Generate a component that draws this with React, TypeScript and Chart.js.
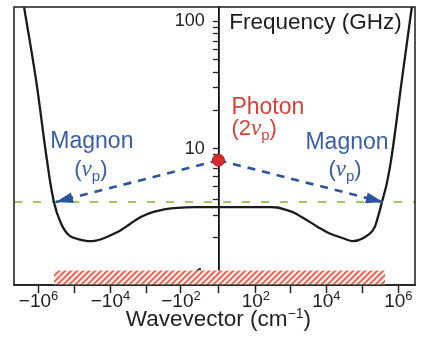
import React, { useEffect, useRef } from "react";
import { Chart, registerables } from "chart.js";

Chart.register(...registerables);

// ---------------- data ----------------
// magnon dispersion (wavevector in cm^-1, frequency in GHz)
const curveK = [
  -2.52e6, -1.17e6, -5.82e5, -3.72e5, -2.38e5, -1.43e5, -8.05e4, -4.26e4, -2.55e4, -1.53e4, -9.2e3, -5.18e3,
  -2.91e3, -1.74e3, -1.04e3, -621, -284, -127, -33, 0, 31, 190, 421, 708, 1187, 1980, 3524, 5880, 1.044e4,
  1.74e4, 2.9e4, 5.5e4, 1.04e5, 1.97e5, 2.7e5, 3.49e5, 4.8e5, 6.6e5, 1.25e6, 2.37e6,
];
const curveGHz = [
  130, 34.6, 8.1, 3.79, 2.59, 2.08, 1.94, 1.87, 1.89, 1.97, 2.1, 2.28,
  2.54, 2.81, 3.02, 3.18, 3.34, 3.42, 3.46, 3.46, 3.46, 3.46, 3.44, 3.31, 3.16, 2.91, 2.64, 2.41, 2.2,
  2.07, 1.97, 1.87, 1.97, 2.28, 2.89, 3.79, 5.35, 8.89, 34.6, 130,
];
// photon (pump) point
const photonK = [0];
const photonGHz = [8.1];
// half-frequency level (green dashed)
const pumpHalfGHz = [3.8, 3.8];
// magnon arrow tips
const magnonTipK = [-3.3e5, 3.7e5];
const magnonTipGHz = [3.8, 3.8];
// hatched band
const bandK = [-3.7e5, 4.26e5];
const bandGHz = [1.1, 1.1];
// axes
const xRangeK = [-4.8e6, 2.9e6];
const yRangeGHz = [0.842, 130];
const xTickK = [-1e6, -1e5, -1e4, -1e3, -1e2, 0, 1e2, 1e3, 1e4, 1e5, 1e6];
const xTickBase = ["−10", "", "−10", "", "−10", "", "10", "", "10", "", "10"];
const xTickExp = ["6", "", "4", "", "2", "", "2", "", "4", "", "6"];
const yTickValues = [1, 2, 3, 4, 5, 6, 7, 8, 9, 10, 20, 30, 40, 50, 60, 70, 80, 90, 100];
const yTickLabels = ["1", "", "", "", "", "", "", "", "", "10", "", "", "", "", "", "", "", "", "100"];
const xTitleParts = ["Wavevector (cm", "−1", ")"];

// symmetric-log transform of the wavevector axis
const sym = (k: number) => Math.sign(k) * Math.log10(1 + Math.abs(k) / 10);

const FONT = '"Liberation Sans", Arial, Helvetica, sans-serif';
const BLUE = "#3a5ea6";
const RED = "#d2433a";

type Ann = { text: string; k: number; ghz: number; align: "left" | "center"; color: string; size: number; nu?: string };
const annotations: Ann[] = [
  { text: "Frequency (GHz)", k: 10, ghz: 87, align: "left", color: "#1e1e1e", size: 22.5 },
  { text: "Photon", k: 12.9, ghz: 18.7, align: "left", color: RED, size: 23 },
  { text: "", nu: "2", k: 12.9, ghz: 12.8, align: "left", color: RED, size: 22 },
  { text: "Magnon", k: -3.29e4, ghz: 10.1, align: "center", color: BLUE, size: 23 },
  { text: "", nu: "", k: -3.51e4, ghz: 6.07, align: "center", color: BLUE, size: 22 },
  { text: "Magnon", k: 3.74e4, ghz: 9.9, align: "center", color: BLUE, size: 23 },
  { text: "", nu: "", k: 3.29e4, ghz: 6.07, align: "center", color: BLUE, size: 22 },
];

type Seg = { t: string; f: string; dy: number };

function drawSegs(ctx: CanvasRenderingContext2D, x: number, y: number, segs: Seg[], align: string) {
  let w = 0;
  for (const s of segs) {
    ctx.font = s.f;
    w += ctx.measureText(s.t).width;
  }
  let cx = align === "center" ? x - w / 2 : x;
  ctx.textAlign = "left";
  ctx.textBaseline = "alphabetic";
  for (const s of segs) {
    ctx.font = s.f;
    ctx.fillText(s.t, cx, y + s.dy);
    cx += ctx.measureText(s.t).width;
  }
}

function nuSegs(prefix: string, size: number): Seg[] {
  return [
    { t: "(", f: `${size}px ${FONT}`, dy: 0 },
    { t: prefix, f: `${size}px ${FONT}`, dy: 0 },
    { t: "ν", f: `italic ${size + 1}px "Liberation Serif", "DejaVu Serif", serif`, dy: 0 },
    { t: "p", f: `${Math.round(size * 0.66)}px ${FONT}`, dy: 5 },
    { t: ")", f: `${size}px ${FONT}`, dy: 0 },
  ];
}

const textPlugin = {
  id: "textLabels",
  afterDatasetsDraw(chart: any) {
    const { ctx, scales } = chart;
    ctx.save();
    for (const a of annotations) {
      const x = scales.x.getPixelForValue(sym(a.k));
      const y = scales.y.getPixelForValue(a.ghz);
      ctx.fillStyle = a.color;
      if (a.nu !== undefined) {
        drawSegs(ctx, x, y, nuSegs(a.nu, a.size), a.align);
      } else {
        drawSegs(ctx, x, y, [{ t: a.text, f: `${a.size}px ${FONT}`, dy: 0 }], a.align);
      }
    }
    ctx.restore();
  },
  afterDraw(chart: any) {
    const { ctx, scales } = chart;
    const xs = scales.x;
    const top = xs.top;
    ctx.save();
    ctx.fillStyle = "#222";
    xs.ticks.forEach((t: any, i: number) => {
      if (!xTickBase[i]) return;
      const px = xs.getPixelForValue(t.value);
      drawSegs(
        ctx,
        px,
        top + 22,
        [
          { t: xTickBase[i], f: `19px ${FONT}`, dy: 0 },
          { t: xTickExp[i], f: `13px ${FONT}`, dy: -7 },
        ],
        "center"
      );
    });
    const cx = xs.getPixelForValue(0);
    drawSegs(
      ctx,
      cx,
      top + 41,
      [
        { t: xTitleParts[0], f: `22.5px ${FONT}`, dy: 0 },
        { t: xTitleParts[1], f: `14px ${FONT}`, dy: -8 },
        { t: xTitleParts[2], f: `22.5px ${FONT}`, dy: 0 },
      ],
      "center"
    );
    ctx.restore();
  },
};

const framePlugin = {
  id: "frame",
  afterDatasetsDraw(chart: any) {
    const { ctx, chartArea: a } = chart;
    ctx.save();
    ctx.strokeStyle = "#2a2a2a";
    ctx.lineWidth = 1.6;
    ctx.strokeRect(a.left, a.top, a.right - a.left, a.bottom - a.top);
    ctx.restore();
  },
};

const arrowPlugin = {
  id: "arrowHeads",
  afterDatasetsDraw(chart: any) {
    const { ctx } = chart;
    chart.data.datasets.forEach((ds: any, i: number) => {
      if (!ds.arrowHead) return;
      const pts = chart.getDatasetMeta(i).data;
      const a = pts[pts.length - 2];
      const b = pts[pts.length - 1];
      const ang = Math.atan2(b.y - a.y, b.x - a.x);
      const L = 17;
      const W = 5.5;
      const c = Math.cos(ang);
      const s = Math.sin(ang);
      ctx.save();
      ctx.fillStyle = ds.borderColor;
      ctx.beginPath();
      ctx.moveTo(b.x, b.y);
      ctx.lineTo(b.x - L * c - W * s, b.y - L * s + W * c);
      ctx.lineTo(b.x - L * c + W * s, b.y - L * s - W * c);
      ctx.closePath();
      ctx.fill();
      ctx.restore();
    });
  },
};

export default function App() {
  const ref = useRef<HTMLCanvasElement>(null);

  useEffect(() => {
    const canvas = ref.current!;
    const ctx = canvas.getContext("2d")!;

    const pc = document.createElement("canvas");
    pc.width = 6;
    pc.height = 6;
    const p = pc.getContext("2d")!;
    p.fillStyle = "#fde8e4";
    p.fillRect(0, 0, 6, 6);
    p.strokeStyle = "#e2604f";
    p.lineWidth = 1.7;
    p.beginPath();
    p.moveTo(-1, 7);
    p.lineTo(7, -1);
    p.moveTo(-1, 1);
    p.lineTo(1, -1);
    p.moveTo(5, 7);
    p.lineTo(7, 5);
    p.stroke();
    const hatch = ctx.createPattern(pc, "repeat");

    const pts = (ks: number[], vs: number[]) => ks.map((k, i) => ({ x: sym(k), y: vs[i] }));

    const chart = new Chart(ctx, {
      type: "line",
      data: {
        datasets: [
          {
            label: "Photon",
            data: pts(photonK, photonGHz),
            showLine: false,
            pointRadius: 6,
            pointBackgroundColor: "#d42b2b",
            pointBorderColor: "#b01e1e",
            pointBorderWidth: 1,
          },
          {
            label: "Magnon left",
            data: pts([photonK[0], magnonTipK[0]], [photonGHz[0], magnonTipGHz[0]]),
            borderColor: "#2c539c",
            borderWidth: 2.6,
            borderDash: [8, 7],
            pointRadius: 0,
            arrowHead: true,
          } as any,
          {
            label: "Magnon right",
            data: pts([photonK[0], magnonTipK[1]], [photonGHz[0], magnonTipGHz[1]]),
            borderColor: "#2c539c",
            borderWidth: 2.6,
            borderDash: [8, 7],
            pointRadius: 0,
            arrowHead: true,
          } as any,
          {
            label: "Dispersion",
            data: pts(curveK, curveGHz),
            borderColor: "#1a1a1a",
            borderWidth: 2.3,
            pointRadius: 0,
            tension: 0.4,
          },
          {
            label: "Half pump",
            data: pts(xRangeK, pumpHalfGHz),
            borderColor: "#9cc85c",
            borderWidth: 2,
            borderDash: [8, 11],
            pointRadius: 0,
          },
          {
            label: "Band",
            data: pts(bandK, bandGHz),
            borderWidth: 0,
            borderColor: "rgba(0,0,0,0)",
            backgroundColor: hatch as any,
            fill: "start",
            pointRadius: 0,
          },
        ],
      },
      options: {
        animation: false,
        responsive: true,
        maintainAspectRatio: false,
        layout: { padding: { left: 14, right: 8, top: 7, bottom: 12 } },
        plugins: { legend: { display: false }, tooltip: { enabled: false } },
        scales: {
          x: {
            type: "linear",
            position: "bottom",
            min: sym(xRangeK[0]),
            max: sym(xRangeK[1]),
            afterBuildTicks: (scale: any) => {
              scale.ticks = xTickK.map((k) => ({ value: sym(k) }));
            },
            afterFit: (scale: any) => {
              scale.paddingLeft = 0;
              scale.paddingRight = 0;
            },
            ticks: {
              autoSkip: false,
              maxRotation: 0,
              padding: -2,
              color: "rgba(0,0,0,0)",
              font: { family: FONT, size: 18 },
              callback: (_v: any, i: number) => (xTickBase[i] ? xTickBase[i] + xTickExp[i] : ""),
            },
            grid: { drawOnChartArea: false, tickLength: 8, color: "#222", tickWidth: 1.5 },
            border: { display: true, color: "#222", width: 1.6 },
            title: {
              display: true,
              text: xTitleParts.join(""),
              color: "rgba(0,0,0,0)",
              font: { family: FONT, size: 21 },
              padding: { top: 0, bottom: 0 },
            },
          },
          y: {
            type: "logarithmic",
            position: { x: 0 } as any,
            min: yRangeGHz[0],
            max: yRangeGHz[1],
            afterBuildTicks: (scale: any) => {
              scale.ticks = yTickValues.map((v) => ({ value: v }));
            },
            afterFit: (scale: any) => {
              scale.paddingTop = 0;
              scale.paddingBottom = 0;
            },
            ticks: {
              autoSkip: false,
              color: "#222",
              font: { family: FONT, size: 18 },
              callback: (_v: any, i: number) => (yTickLabels[i] ? yTickLabels[i] + "  \u2009" : ""),
            },
            grid: { drawOnChartArea: false, tickLength: 5, color: "#222", tickWidth: 1.3 },
            border: { display: true, color: "#111", width: 1.8 },
          },
        },
      },
      plugins: [framePlugin, arrowPlugin, textPlugin],
    });
    return () => chart.destroy();
  }, []);

  return (
    <div style={{ position: "fixed", left: 0, top: 0, width: 423, height: 348, background: "#fff" }}>
      <canvas ref={ref} />
    </div>
  );
}
